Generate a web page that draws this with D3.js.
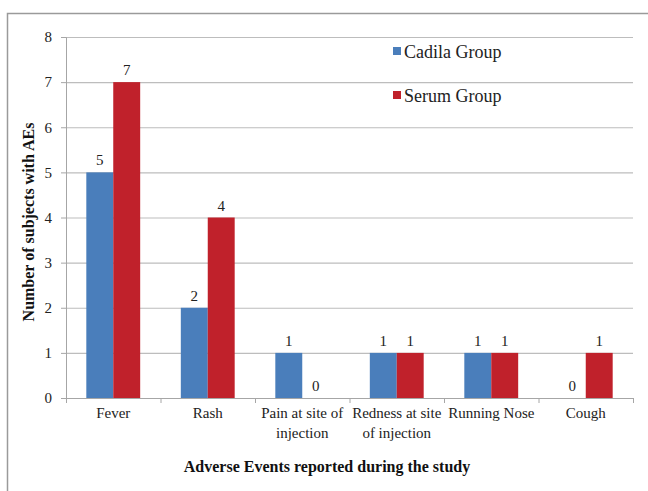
<!DOCTYPE html>
<html>
<head>
<meta charset="utf-8">
<script src="https://cdnjs.cloudflare.com/ajax/libs/d3/7.8.5/d3.min.js"></script>
<style>
  body { margin: 0; background: #fff; }
  svg text { font-family: "Liberation Serif", "Times New Roman", serif !important; }
  .axis path, .axis line { stroke: #a6a6a6; }
  .axis text { fill: #222; font-size: 14px; }
</style>
</head>
<body>
<script>
// data
var categories = ["Fever", "Rash", "Pain at site of|injection", "Redness at site|of injection", "Running Nose", "Cough"];
var cadila = [5, 2, 1, 1, 1, 0];
var serum = [7, 4, 0, 1, 1, 1];
var seriesNames = ["Cadila Group", "Serum Group"];
var colors = ["#4a7ebb", "#c0212b"];
var yTicks = [0, 1, 2, 3, 4, 5, 6, 7, 8];

var W = 648, H = 491;
var margin = {top: 37, right: 15, bottom: 93, left: 66};
var width = W - margin.left - margin.right;
var height = H - margin.top - margin.bottom;

var svg = d3.select("body").append("svg")
    .attr("width", W)
    .attr("height", H);

// outer frame (only top and left visible)
svg.append("path")
    .attr("d", "M7.5," + H + "V13.5H" + W)
    .attr("fill", "none")
    .attr("stroke", "#9a9a9a")
    .attr("stroke-width", 1.5);

var g = svg.append("g")
    .attr("transform", "translate(" + margin.left + "," + margin.top + ")");

var x = d3.scaleBand()
    .domain(d3.range(categories.length))
    .range([0, width])
    .paddingInner(0.43)
    .paddingOuter(0.215);

var xFull = d3.scaleBand()
    .domain(d3.range(categories.length))
    .range([0, width]);

var y = d3.scaleLinear()
    .domain([0, 8])
    .range([height, 0]);

// gridlines
g.selectAll(".grid")
    .data(yTicks.filter(d => d > 0))
    .enter().append("line")
    .attr("x1", 0).attr("x2", width)
    .attr("y1", d => y(d) + 0.5).attr("y2", d => y(d) + 0.5)
    .attr("stroke", "#bdbdbd")
    .attr("stroke-width", 1.2);

// y axis
var yAxis = g.append("g")
    .attr("class", "axis")
    .call(d3.axisLeft(y).tickValues(yTicks).tickSize(5).tickPadding(9));
yAxis.select(".domain").attr("d", "M-5,0.5H0.5V" + height);
yAxis.selectAll("text").style("font-size", "15px");

// x axis with ticks between categories
var xAxisG = g.append("g")
    .attr("class", "axis")
    .attr("transform", "translate(0," + height + ")");
xAxisG.append("line")
    .attr("x1", 0).attr("x2", width)
    .attr("y1", 0.5).attr("y2", 0.5)
    .attr("stroke", "#a6a6a6");
xAxisG.selectAll(".sep")
    .data(d3.range(categories.length + 1))
    .enter().append("line")
    .attr("x1", d => d * xFull.step() + 0.5)
    .attr("x2", d => d * xFull.step() + 0.5)
    .attr("y1", 0).attr("y2", 5)
    .attr("stroke", "#a6a6a6");

var labels = xAxisG.selectAll(".xl")
    .data(categories)
    .enter().append("text")
    .attr("text-anchor", "middle")
    .attr("x", (d, i) => xFull(i) + xFull.bandwidth() / 2)
    .attr("y", 20)
    .style("font-size", "15px")
    .attr("fill", "#222");
labels.each(function(d) {
    var parts = d.split("|");
    var t = d3.select(this);
    parts.forEach((p, k) => {
        t.append("tspan")
            .attr("x", t.attr("x"))
            .attr("dy", k === 0 ? 0 : 20)
            .text(p);
    });
});

// bars
var seriesData = [cadila, serum];
var bw = x.bandwidth() / 2;
seriesData.forEach((vals, s) => {
    g.selectAll(".bar" + s)
        .data(vals)
        .enter().append("rect")
        .attr("x", (d, i) => x(i) + s * bw)
        .attr("y", d => y(d))
        .attr("width", bw)
        .attr("height", d => height - y(d))
        .attr("fill", colors[s]);
    g.selectAll(".lab" + s)
        .data(vals)
        .enter().append("text")
        .attr("text-anchor", "middle")
        .attr("x", (d, i) => x(i) + s * bw + bw / 2)
        .attr("y", d => y(d) - 7)
        .style("font-size", "15px")
        .attr("fill", "#222")
        .text(d => d);
});

// legend
var legend = svg.append("g");
seriesNames.forEach((n, i) => {
    legend.append("rect")
        .attr("x", 393).attr("y", 47 + i * 44)
        .attr("width", 8).attr("height", 8)
        .attr("fill", colors[i]);
    legend.append("text")
        .attr("x", 404).attr("y", 58 + i * 44)
        .style("font-size", "18px")
        .attr("fill", "#222")
        .text(n);
});

// axis titles
svg.append("text")
    .attr("text-anchor", "middle")
    .attr("x", 327).attr("y", 472)
    .style("font-size", "16px")
    .style("font-weight", "bold")
    .attr("fill", "#111")
    .text("Adverse Events reported during the study");

svg.append("text")
    .attr("text-anchor", "middle")
    .attr("transform", "translate(34,222) rotate(-90)")
    .style("font-size", "16px")
    .style("font-weight", "bold")
    .attr("fill", "#111")
    .text("Number of subjects with AEs");
</script>
</body>
</html>
